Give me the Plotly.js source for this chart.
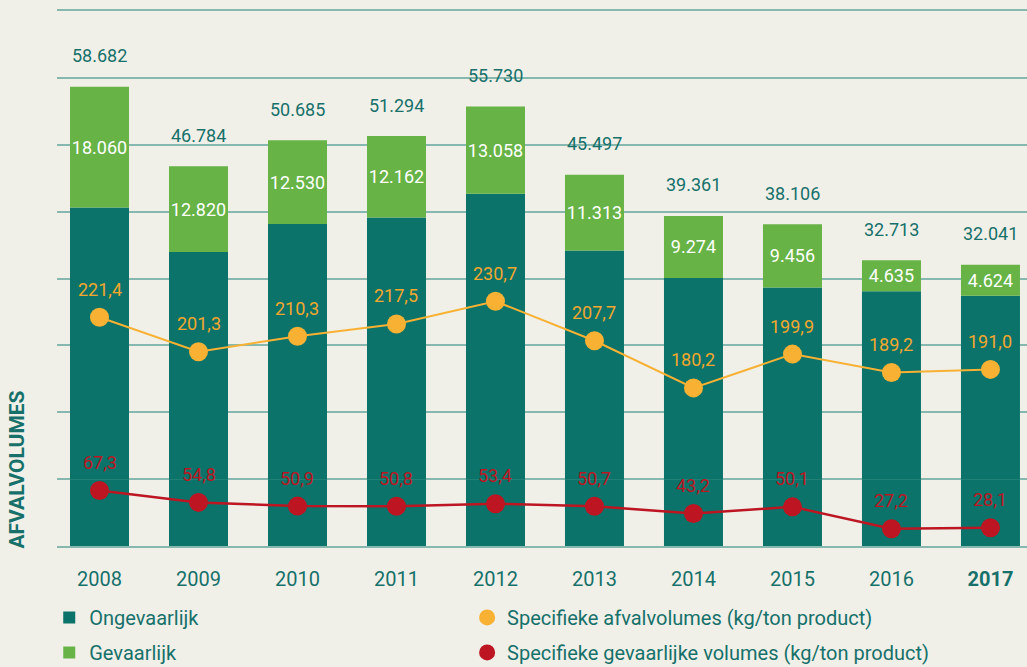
<!DOCTYPE html>
<html>
<head>
<meta charset="utf-8">
<script src="https://cdn.plot.ly/plotly-3.0.1.min.js"></script>
<style>
  html, body { margin: 0; padding: 0; background: #f0f0e9; }
  #chart { width: 1027px; height: 667px; }
</style>
</head>
<body>
<div id="chart"></div>
<script>
// ---- data ----
const years = ['2008', '2009', '2010', '2011', '2012', '2013', '2014', '2015', '2016', '2017'];
const ongevaarlijk = [40622, 33964, 38155, 39132, 42672, 34184, 30087, 28650, 28078, 27417];
const gevaarlijk = [18060, 12820, 12530, 12162, 13058, 11313, 9274, 9456, 4635, 4624];
const totaal = [58682, 46784, 50685, 51294, 55730, 45497, 39361, 38106, 32713, 32041];
const specifiek = [221.4, 201.3, 210.3, 217.5, 230.7, 207.7, 180.2, 199.9, 189.2, 191.0];
const specifiekGevaarlijk = [67.3, 54.8, 50.9, 50.8, 53.4, 50.7, 43.2, 50.1, 27.2, 28.1];
const tickLabels = ['2008', '2009', '2010', '2011', '2012', '2013', '2014', '2015', '2016', '<b>2017</b>'];

// ---- style ----
const FONT = 'Roboto, "Liberation Sans", sans-serif';
const BG = '#f0f0e9';
const TEAL = '#0b7369';
const GREEN = '#67b346';
const ORANGE = '#f8b133';
const RED = '#bd1622';
const TEXT = '#17706a';
const GRID = '#86b8b0';
const AXIS_FLOOR = -10000; // the bars run down to the lowest gridline, as in the reference

function fmtThousands(v) {
  return String(Math.round(v)).replace(/\B(?=(\d{3})+(?!\d))/g, '.');
}
function fmtDecimal(v) {
  return v.toFixed(1).replace('.', ',');
}

const traces = [
  {
    type: 'bar', x: years, y: years.map(() => AXIS_FLOOR),
    marker: { color: TEAL }, showlegend: false, hoverinfo: 'skip'
  },
  {
    type: 'bar', name: 'Ongevaarlijk', x: years, y: ongevaarlijk,
    marker: { color: TEAL }, legend: 'legend', legendgroup: 'a',
    hovertemplate: '%{x}: %{y:,}<extra>Ongevaarlijk</extra>'
  },
  {
    type: 'bar', name: 'Gevaarlijk', x: years, y: gevaarlijk,
    marker: { color: GREEN }, legend: 'legend', legendgroup: 'b',
    texttemplate: '%{y:,}', textposition: 'inside', insidetextanchor: 'middle',
    constraintext: 'none', textangle: 0,
    insidetextfont: { family: FONT, size: 18, color: '#ffffff' },
    hovertemplate: '%{x}: %{y:,}<extra>Gevaarlijk</extra>'
  },
  {
    type: 'scatter', mode: 'lines+markers', x: years, y: specifiek, yaxis: 'y2',
    line: { color: ORANGE, width: 2 }, marker: { color: ORANGE, size: 19 },
    showlegend: false, hovertemplate: '%{x}: %{y:.1f}<extra></extra>'
  },
  {
    type: 'scatter', mode: 'lines+markers', x: years, y: specifiekGevaarlijk, yaxis: 'y3',
    line: { color: RED, width: 2.5 }, marker: { color: RED, size: 19 },
    showlegend: false, hovertemplate: '%{x}: %{y:.1f}<extra></extra>'
  },
  {
    type: 'scatter', mode: 'markers', x: [null], y: [null], yaxis: 'y2',
    name: 'Specifieke afvalvolumes (kg/ton product)',
    marker: { color: ORANGE, size: 16 }, legend: 'legend2', legendgroup: 'c'
  },
  {
    type: 'scatter', mode: 'markers', x: [null], y: [null], yaxis: 'y3',
    name: 'Specifieke gevaarlijke volumes (kg/ton product)',
    marker: { color: RED, size: 16 }, legend: 'legend2', legendgroup: 'd'
  }
];

const annotations = [];
years.forEach((yr, i) => {
  annotations.push({
    x: i, y: totaal[i], xref: 'x', yref: 'y', text: fmtThousands(totaal[i]),
    showarrow: false, yanchor: 'middle', yshift: 31,
    font: { family: FONT, size: 18, color: TEXT }
  });
  annotations.push({
    x: i, y: specifiek[i], xref: 'x', yref: 'y2', text: fmtDecimal(specifiek[i]),
    showarrow: false, yanchor: 'middle', yshift: 28,
    font: { family: FONT, size: 18, color: '#f2a72e' }
  });
  annotations.push({
    x: i, y: specifiekGevaarlijk[i], xref: 'x', yref: 'y3', text: fmtDecimal(specifiekGevaarlijk[i]),
    showarrow: false, yanchor: 'middle', yshift: 28,
    font: { family: FONT, size: 18, color: RED }
  });
});
annotations.push({
  x: -0.0407, y: 0.142, xref: 'paper', yref: 'paper', text: '<b>AFVALVOLUMES</b>',
  textangle: -90, showarrow: false, xanchor: 'center', yanchor: 'middle',
  font: { family: FONT, size: 21, color: TEXT }
});

const legendBase = {
  yanchor: 'top', xanchor: 'left', y: -0.097,
  bgcolor: 'rgba(0,0,0,0)', borderwidth: 0,
  font: { family: FONT, size: 20, color: TEXT },
  traceorder: 'grouped', tracegroupgap: 6, orientation: 'v'
};

const layout = {
  width: 1027, height: 667,
  margin: { l: 57, r: 0, t: 11, b: 121, autoexpand: false },
  paper_bgcolor: BG, plot_bgcolor: BG,
  barmode: 'relative', bargap: 0.404,
  separators: ',.',
  font: { family: FONT, color: TEXT },
  xaxis: {
    type: 'category', range: [-0.4293, 9.369],
    tickvals: years, ticktext: tickLabels,
    tickfont: { family: FONT, size: 20, color: TEXT },
    showgrid: false, zeroline: false, ticks: '', ticklabelstandoff: 14,
    showline: true, mirror: true, linecolor: GRID, linewidth: 2,
    automargin: false
  },
  yaxis: {
    range: [AXIS_FLOOR, 70000], dtick: 10000, tick0: 0,
    showticklabels: false, showgrid: true, gridcolor: GRID, gridwidth: 2,
    zeroline: false, ticks: '', automargin: false
  },
  yaxis2: {
    overlaying: 'y', range: [88, 400], visible: false, showgrid: false, zeroline: false
  },
  yaxis3: {
    overlaying: 'y', range: [9, 571], visible: false, showgrid: false, zeroline: false
  },
  legend: Object.assign({}, legendBase, { x: -0.008 }),
  legend2: Object.assign({}, legendBase, { x: 0.4228 }),
  annotations: annotations,
  showlegend: true
};

Plotly.newPlot('chart', traces, layout, { displayModeBar: false });
</script>
</body>
</html>
